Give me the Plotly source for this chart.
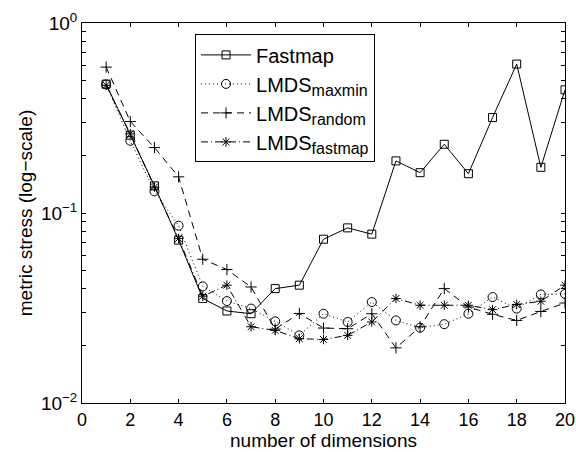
import plotly.graph_objects as go

dims = list(range(1, 21))
fastmap = [0.477, 0.257, 0.139, 0.072, 0.0355, 0.0305, 0.0295, 0.040, 0.0417, 0.0728,
           0.0835, 0.0774, 0.188, 0.163, 0.230, 0.161, 0.318, 0.608, 0.174, 0.445]
lmds_maxmin = [0.475, 0.240, 0.130, 0.0857, 0.0411, 0.0344, 0.0314, 0.0269, 0.0227, 0.0295,
               0.0267, 0.034, 0.0272, 0.0249, 0.026, 0.0295, 0.0361, 0.0314, 0.0373, 0.0375]
lmds_random = [0.586, 0.303, 0.221, 0.155, 0.0571, 0.0504, 0.0408, 0.0245, 0.0296, 0.0248,
               0.0246, 0.0295, 0.0195, 0.0252, 0.040, 0.032, 0.0293, 0.0272, 0.0303, 0.0336]
lmds_fastmap = [0.470, 0.261, 0.137, 0.0735, 0.0365, 0.0417, 0.0252, 0.0241, 0.0218, 0.0216,
                0.0227, 0.0267, 0.0355, 0.0327, 0.0327, 0.0327, 0.031, 0.033, 0.0343, 0.0417]

series_names = ["Fastmap", "LMDS", "LMDS", "LMDS"]
series_subs = ["", "maxmin", "random", "fastmap"]

x_ticks = list(range(0, 21, 2))
y_tickvals = []
y_ticktext = []
for e, lab in [(-2, "10<sup>−2</sup>"), (-1, "10<sup>−1</sup>")]:
    base = 10 ** e
    for m in range(1, 10):
        y_tickvals.append(round(m * base, 6))
        y_ticktext.append(lab if m == 1 else "")
y_tickvals.append(1.0)
y_ticktext.append("10<sup>0</sup>")

FONT = "Liberation Sans, Arial, sans-serif"


def label(name, sub):
    if not sub:
        return name
    return name + '<sub><span style="font-size:16px">' + sub + '</span></sub>'


styles = [
    (fastmap, "solid", "square-open", 8),
    (lmds_maxmin, "1px,3px", "circle-open", 9),
    (lmds_random, "7px,5px", "cross-thin-open", 8),
    (lmds_fastmap, "7px,3px,1px,3px", "asterisk-open", 8),
]

fig = go.Figure()
for (vals, dash, sym, sz), nm, sb in zip(styles, series_names, series_subs):
    fig.add_trace(go.Scatter(
        x=dims, y=vals, name=label(nm, sb), mode="lines+markers",
        line=dict(color="black", width=1, dash=dash),
        marker=dict(symbol=sym, size=sz, color="black", line=dict(width=1, color="black"))))

fig.update_layout(
    width=576, height=452,
    margin=dict(l=82, r=11, t=23, b=49),
    paper_bgcolor="white", plot_bgcolor="white",
    font=dict(family=FONT, size=20, color="black"),
    showlegend=True,
    legend=dict(
        x=0.234, y=0.97, xanchor="left", yanchor="top",
        bgcolor="white", bordercolor="black", borderwidth=1,
        font=dict(family=FONT, size=20, color="black"),
        tracegroupgap=0, itemwidth=50,
    ),
)
fig.update_xaxes(
    range=[0, 20], tickvals=x_ticks, ticktext=[str(v) for v in x_ticks],
    ticks="inside", ticklen=4, tickcolor="black", tickwidth=1,
    showline=True, linecolor="black", linewidth=1, mirror="ticks",
    showgrid=False, zeroline=False, ticklabelstandoff=0, automargin=False,
    ticklabeloverflow="allow",
    title=dict(text="number of dimensions", standoff=4, font=dict(size=19)),
    tickfont=dict(size=18),
)
fig.update_yaxes(
    type="log", range=[-2, 0], tickvals=y_tickvals, ticktext=y_ticktext,
    ticks="inside", ticklen=4, tickcolor="black", tickwidth=1,
    showline=True, linecolor="black", linewidth=1, mirror="ticks",
    showgrid=False, zeroline=False, automargin=False,
    ticklabeloverflow="allow",
    title=dict(text="metric stress (log−scale)", standoff=3, font=dict(size=19)),
    tickfont=dict(size=19),
)

fig.write_html("out.html")
